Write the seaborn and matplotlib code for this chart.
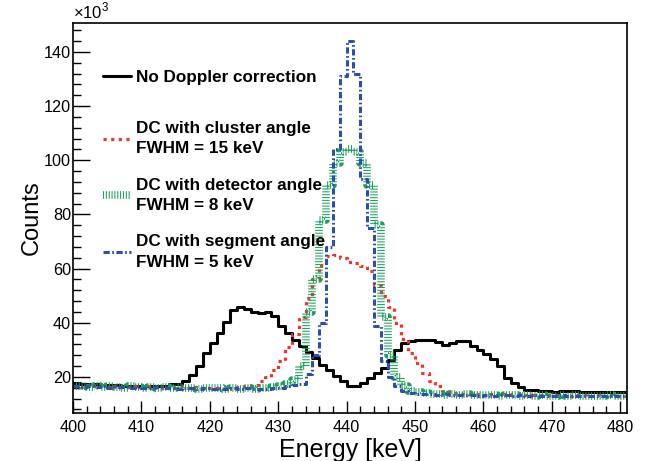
import numpy as np
import pandas as pd
import matplotlib
matplotlib.use("Agg")
import matplotlib.pyplot as plt
import seaborn as sns
from matplotlib.lines import Line2D
from matplotlib.ticker import MultipleLocator

# 1 keV bins from 400 to 481 keV, counts in units of 10^3
centres = np.arange(400, 481) + 0.5

no_dc = [17.6, 17.5, 17.4, 17.3, 17.2, 17.0, 16.9, 16.8, 16.7, 16.7,
         16.6, 16.5, 16.6, 16.7, 17.4, 17.5, 18.7, 20.8, 24.1, 28.8,
         32.5, 36.4, 40.3, 44.8, 46.0, 45.0, 43.9, 43.8, 43.9, 42.6,
         38.9, 36.4, 33.7, 31.5, 29.4, 27.0, 24.5, 22.4, 20.5, 18.4,
         16.5, 16.5, 17.8, 19.8, 21.4, 23.3, 26.1, 30.0, 32.6, 33.4,
         33.6, 33.8, 33.7, 33.1, 31.9, 32.6, 33.4, 33.4, 31.5, 30.0,
         28.5, 26.6, 23.9, 19.6, 17.8, 16.2, 15.3, 15.3, 14.8, 14.7,
         14.6, 14.9, 14.7, 14.8, 14.6, 14.5, 14.4, 14.5, 14.3, 14.4, 14.5]

dc_cluster = [16.8, 16.4, 16.9, 16.5, 16.6, 16.2, 16.7, 16.4, 16.3, 16.6,
              16.2, 16.5, 16.0, 16.4, 16.1, 16.3, 15.9, 16.2, 15.8, 16.1,
              15.9, 16.0, 15.7, 16.0, 16.3, 16.6, 17.2, 18.4, 20.0, 22.5,
              26.0, 31.0, 36.0, 42.0, 49.0, 56.0, 61.5, 64.5, 65.2, 64.0,
              62.5, 62.0, 61.0, 59.0, 54.0, 50.0, 46.0, 40.0, 34.0, 29.0,
              25.0, 21.5, 18.5, 16.5, 15.0, 14.2, 13.8, 13.9, 13.6, 13.7,
              13.5, 13.7, 13.4, 13.6, 13.3, 13.5, 13.2, 13.4, 13.3, 13.5,
              13.2, 13.4, 13.1, 13.3, 13.2, 13.0, 13.3, 13.1, 13.2, 13.0, 13.1]

dc_detector = [16.5, 16.8, 16.3, 16.6, 16.2, 16.7, 16.4, 16.1, 16.5, 16.3,
               16.0, 16.4, 16.1, 16.3, 15.9, 16.2, 15.8, 16.1, 15.7, 16.0,
               15.8, 16.1, 15.6, 15.9, 15.7, 16.0, 15.6, 15.9, 16.1, 16.4,
               16.8, 17.5, 19.0, 24.0, 44.0, 56.0, 78.0, 91.0, 99.0, 103.0,
               104.0, 103.0, 99.0, 91.0, 76.0, 42.0, 28.0, 20.0, 16.5, 15.0,
               14.3, 14.0, 13.7, 13.9, 13.5, 13.8, 13.4, 13.6, 13.3, 13.5,
               13.2, 13.5, 13.1, 13.4, 13.2, 13.0, 13.3, 13.1, 13.2, 12.9,
               13.1, 13.3, 13.0, 13.2, 12.9, 13.1, 12.8, 13.0, 13.2, 12.9, 13.0]

dc_segment = [16.7, 16.4, 16.6, 16.3, 16.5, 16.1, 16.4, 16.2, 16.0, 16.3,
              16.1, 15.9, 16.2, 15.8, 16.0, 15.7, 16.0, 15.8, 15.6, 15.9,
              15.7, 15.9, 15.5, 15.8, 15.6, 15.8, 15.5, 15.7, 15.6, 15.9,
              16.0, 16.5, 17.0, 17.5, 21.0, 28.0, 40.0, 68.0, 104.0, 131.0,
              144.0, 132.0, 93.0, 75.0, 39.0, 26.0, 20.0, 16.5, 15.0, 14.2,
              13.9, 13.6, 13.8, 13.4, 13.7, 13.3, 13.5, 13.2, 13.4, 13.1,
              13.3, 13.0, 13.4, 13.2, 13.1, 13.3, 13.0, 13.2, 12.9, 13.1,
              13.0, 13.2, 12.9, 13.1, 13.0, 12.8, 13.1, 12.9, 13.0, 12.8, 12.9]

labels = ["No Doppler correction",
          "DC with cluster angle\nFWHM = 15 keV",
          "DC with detector angle\nFWHM = 8 keV",
          "DC with segment angle\nFWHM = 5 keV"]

sns.set_theme(style="ticks")
plt.rcParams['font.family'] = ['Liberation Sans', 'DejaVu Sans']
plt.rcParams['mathtext.fontset'] = 'custom'
plt.rcParams['mathtext.rm'] = 'Liberation Sans'
plt.rcParams['lines.scale_dashes'] = False
plt.rcParams['text.color'] = 'black'
plt.rcParams['axes.labelcolor'] = 'black'

fig = plt.figure(figsize=(6.54, 4.61), dpi=100)
ax = fig.add_axes([73/654, 1 - 413/461, 554/654, 390/461])

styles = [
    dict(color='black', linestyle='-', linewidth=2.2),
    dict(color='#e8382b', linestyle=(0, (2.3, 3.2)), linewidth=2.3),
    dict(color='#1aa05a', linestyle=(0, (0.75, 1.3)), linewidth=5.5),
    dict(color='#2e4fa8', linestyle=(0, (4.5, 1.8, 1.2, 1.8)), linewidth=2.2),
]

for vals, st in zip([no_dc, dc_cluster, dc_detector, dc_segment], styles):
    df = pd.DataFrame({'energy': centres, 'counts': vals})
    sns.histplot(data=df, x='energy', weights='counts', binwidth=1,
                 binrange=(400, 481), element='step', fill=False, ax=ax, **st)

ax.set_xlim(400, 481)
ax.set_ylim(6.7, 150.7)
ax.xaxis.set_major_locator(MultipleLocator(10))
ax.xaxis.set_minor_locator(MultipleLocator(2))
ax.yaxis.set_major_locator(MultipleLocator(20))
ax.yaxis.set_minor_locator(MultipleLocator(4))
ax.tick_params(axis='both', which='both', direction='in', top=False, right=False,
               bottom=True, left=True, colors='black', width=1.0)
ax.tick_params(axis='y', which='major', length=12, pad=1.5, labelsize=11.7)
ax.tick_params(axis='y', which='minor', length=6)
ax.tick_params(axis='x', which='major', length=9, pad=5, labelsize=11.7)
ax.tick_params(axis='x', which='minor', length=5)
for sp in ax.spines.values():
    sp.set_visible(True)
    sp.set_color('black')
    sp.set_linewidth(1.2)

ax.set_xlabel("Energy [keV]", fontsize=18, labelpad=2, color='black')
ax.set_ylabel("Counts", fontsize=17, labelpad=1, color='black')
ax.text(0.0, 1.005, r'$\times10^{3}$', transform=ax.transAxes,
        fontsize=12, ha='left', va='bottom', color='black')

# legend: first entry alone, then the three two-line entries
handles = [Line2D([], [], **st) for st in styles]
leg_kw = dict(frameon=False, loc='center left', borderpad=0, borderaxespad=0,
              handlelength=1.65, handletextpad=0.3, labelcolor='black',
              prop={'weight': 'bold', 'size': 12.3})
leg1 = ax.legend(handles[:1], labels[:1], bbox_to_anchor=(0.054, 0.8615), **leg_kw)
ax.add_artist(leg1)
leg2 = ax.legend(handles[1:], labels[1:], bbox_to_anchor=(0.054, 0.558),
                 labelspacing=1.25, **leg_kw)
for t in leg2.get_texts():
    t.set_linespacing(1.45)

fig.savefig("out.png", dpi=100)
